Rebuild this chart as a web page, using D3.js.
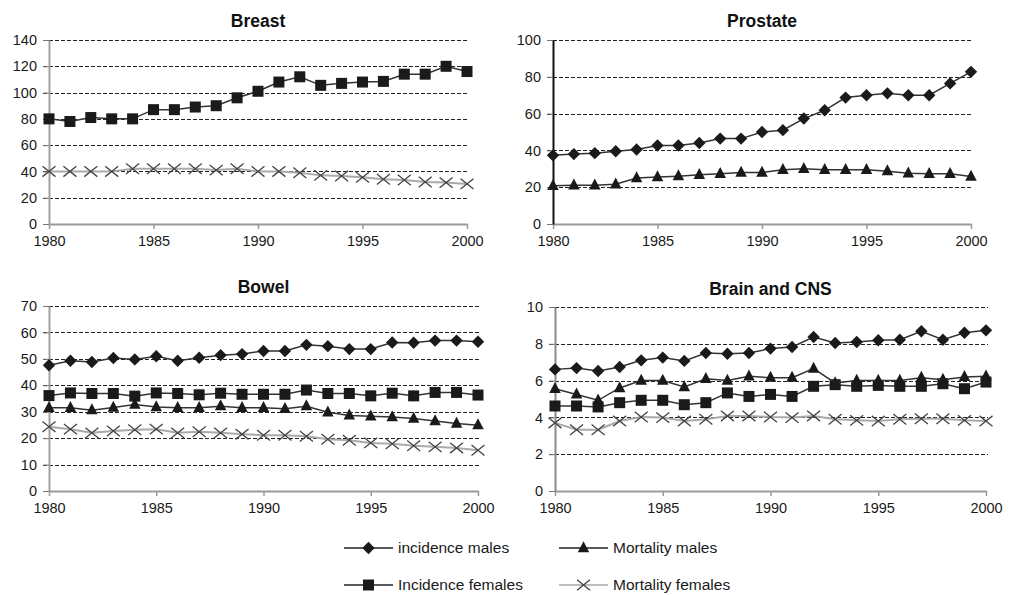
<!DOCTYPE html>
<html>
<head>
<meta charset="utf-8">
<script src="https://cdn.jsdelivr.net/npm/d3@7"></script>
<style>
  html, body { margin: 0; padding: 0; background: #fff; }
  svg { display: block; font-family: "Liberation Sans", Arial, sans-serif; }
</style>
</head>
<body>
<svg id="chart" width="1011" height="595"></svg>
<script>
// Years shared by every panel
const years = d3.range(1980, 2001);
const xTickYears = [1980, 1985, 1990, 1995, 2000];

// Breast (per 100,000)
const breastIncFemales = [80, 78, 81, 80, 80, 87, 87, 89, 90, 96, 101, 108, 112, 105.5, 107, 108, 108.5, 114, 114, 120, 116];
const breastMortFemales = [40, 40, 40, 40, 42, 42, 42, 42, 41, 42, 40, 40, 39, 37, 36.5, 35.5, 34, 33.5, 32, 31.5, 30.5];

// Prostate
const prostateIncMales = [37.3, 38, 38.5, 39.5, 40.5, 42.7, 42.7, 44, 46.4, 46.4, 50, 51, 57.3, 61.8, 68.7, 70, 71, 70, 70, 76.4, 82.7];
const prostateMortMales = [20.8, 21, 21, 21.6, 25, 25.5, 26, 26.7, 27.3, 28, 28, 29.5, 30, 29.5, 29.5, 29.5, 28.7, 27.6, 27.3, 27.3, 25.8];

// Bowel
const bowelIncMales = [47.6, 49.3, 48.8, 50.3, 49.8, 51, 49.3, 50.4, 51.4, 51.8, 53, 53, 55.3, 54.8, 53.7, 53.7, 56.2, 56.1, 56.9, 56.9, 56.5];
const bowelIncFemales = [36.1, 37.1, 36.9, 36.9, 35.9, 37.1, 36.9, 36.4, 37, 36.6, 36.6, 36.6, 38.2, 36.9, 36.9, 36, 37, 36, 37.3, 37.3, 36.3];
const bowelMortMales = [31.5, 31.5, 30.6, 31.6, 32.7, 31.8, 31.5, 31.5, 32.1, 31.5, 31.5, 31.1, 32.1, 29.8, 28.6, 28.3, 28, 27.4, 26.5, 25.5, 24.9];
const bowelMortFemales = [24.3, 23.4, 22, 22.7, 23.2, 23.4, 22, 22.4, 22, 21.5, 21.1, 21.1, 20.7, 19.6, 19.2, 18.2, 17.9, 17.1, 16.7, 16.3, 15.4];

// Brain and CNS
const brainIncMales = [6.61, 6.68, 6.52, 6.74, 7.1, 7.25, 7.07, 7.5, 7.46, 7.5, 7.74, 7.83, 8.37, 8.04, 8.1, 8.19, 8.22, 8.68, 8.22, 8.6, 8.73];
const brainMortMales = [5.56, 5.25, 4.93, 5.6, 6.0, 6.0, 5.65, 6.1, 6.0, 6.23, 6.16, 6.16, 6.65, 5.87, 6.0, 6.0, 6.0, 6.16, 6.05, 6.2, 6.23];
const brainIncFemales = [4.62, 4.62, 4.57, 4.8, 4.93, 4.93, 4.69, 4.8, 5.33, 5.14, 5.25, 5.14, 5.69, 5.78, 5.69, 5.74, 5.69, 5.69, 5.83, 5.56, 5.92];
const brainMortFemales = [3.7, 3.33, 3.33, 3.8, 4.02, 3.99, 3.8, 3.9, 4.08, 4.08, 4.02, 3.99, 4.08, 3.9, 3.84, 3.8, 3.9, 3.93, 3.93, 3.84, 3.8];

// Legend entries
const seriesNames = ["incidence males", "Mortality males", "Incidence females", "Mortality females"];

// Series appearance by kind
const styles = {
  incM: { line: "#333", marker: "diamond" },
  mortM: { line: "#333", marker: "triangle" },
  incF: { line: "#333", marker: "square" },
  mortF: { line: "#aaa", marker: "x" }
};

const panels = [
  { title: "Breast", yMax: 140, step: 20, x0: 49, x1: 467, yTop: 40, yBot: 224, titleY: 27, axisColor: "#a0a0a0",
    series: [["incF", breastIncFemales], ["mortF", breastMortFemales]] },
  { title: "Prostate", yMax: 100, step: 20, x0: 553, x1: 971, yTop: 40, yBot: 224, titleY: 27, axisColor: "#111",
    series: [["incM", prostateIncMales], ["mortM", prostateMortMales]] },
  { title: "Bowel", yMax: 70, step: 10, x0: 49, x1: 478, yTop: 306, yBot: 491, titleY: 293, axisColor: "#a0a0a0",
    series: [["incM", bowelIncMales], ["incF", bowelIncFemales], ["mortM", bowelMortMales], ["mortF", bowelMortFemales]] },
  { title: "Brain and CNS", yMax: 10, step: 2, x0: 555, x1: 986, yTop: 307, yBot: 491, titleY: 295, axisColor: "#8a8a8a",
    series: [["mortF", brainMortFemales], ["incF", brainIncFemales], ["mortM", brainMortMales], ["incM", brainIncMales]] }
];

const svg = d3.select("#chart");

function drawMarker(g, kind, cx, cy) {
  const m = styles[kind].marker;
  if (m === "diamond") {
    const r = 6.2;
    g.append("path").attr("d", `M${cx},${cy - r}L${cx + r},${cy}L${cx},${cy + r}L${cx - r},${cy}Z`).attr("fill", "#1a1a1a");
  } else if (m === "square") {
    const s = 11;
    g.append("rect").attr("x", cx - s / 2).attr("y", cy - s / 2).attr("width", s).attr("height", s).attr("fill", "#1a1a1a");
  } else if (m === "triangle") {
    const w = 11.5, h = 11;
    g.append("path").attr("d", `M${cx},${cy - h * 0.62}L${cx + w / 2},${cy + h * 0.38}L${cx - w / 2},${cy + h * 0.38}Z`).attr("fill", "#1a1a1a");
  } else {
    const r = 6.5;
    g.append("path").attr("d", `M${cx - r},${cy - r * 0.8}L${cx + r},${cy + r * 0.8}M${cx - r},${cy + r * 0.8}L${cx + r},${cy - r * 0.8}`)
      .attr("stroke", "#444").attr("stroke-width", 1.3).attr("fill", "none");
  }
}

panels.forEach(p => {
  const g = svg.append("g");
  const x = d3.scaleLinear().domain([1980, 2000]).range([p.x0, p.x1]);
  const y = d3.scaleLinear().domain([0, p.yMax]).range([p.yBot, p.yTop]);
  const yTicks = d3.range(0, p.yMax + p.step / 2, p.step);

  // dashed gridlines
  g.selectAll(".grid").data(yTicks.filter(v => v > 0)).join("line")
    .attr("x1", p.x0 - 6).attr("x2", p.x1 + 2)
    .attr("y1", d => Math.round(y(d)) + 0.5).attr("y2", d => Math.round(y(d)) + 0.5)
    .attr("stroke", "#222").attr("stroke-width", 1).attr("stroke-dasharray", "4,2");

  // x axis
  const xAxis = g.append("g").attr("transform", `translate(0,${p.yBot})`)
    .call(d3.axisBottom(x).tickValues(xTickYears).tickFormat(d3.format("d")).tickSize(5).tickSizeOuter(0));
  xAxis.select(".domain").attr("stroke", "#9a9a9a").attr("stroke-width", 2);
  xAxis.selectAll(".tick line").attr("stroke", "#9a9a9a").attr("stroke-width", 1.5);
  xAxis.selectAll(".tick text").attr("font-size", 14.5).attr("fill", "#1a1a1a").attr("dy", "0.95em")
    .attr("font-family", "Liberation Sans, Arial, sans-serif");

  // y axis
  const yAxis = g.append("g").attr("transform", `translate(${p.x0},0)`)
    .call(d3.axisLeft(y).tickValues(yTicks).tickFormat(d3.format("d")).tickSize(6).tickSizeOuter(0));
  yAxis.select(".domain").attr("stroke", p.axisColor).attr("stroke-width", 2);
  yAxis.selectAll(".tick line").attr("stroke", "#777").attr("stroke-width", 1);
  yAxis.selectAll(".tick text").attr("font-size", 14.5).attr("fill", "#1a1a1a").attr("x", -12)
    .attr("font-family", "Liberation Sans, Arial, sans-serif");

  // title
  g.append("text").attr("x", (p.x0 + p.x1) / 2).attr("y", p.titleY)
    .attr("text-anchor", "middle").attr("font-weight", "bold").attr("font-size", 17.5).attr("fill", "#111")
    .text(p.title);

  const line = d3.line().x((d, i) => x(years[i])).y(d => y(d));

  p.series.forEach(([kind, vals]) => {
    g.append("path").datum(vals).attr("d", line)
      .attr("fill", "none").attr("stroke", styles[kind].line).attr("stroke-width", kind === "mortF" ? 2 : 1.5);
    const mg = g.append("g");
    vals.forEach((v, i) => drawMarker(mg, kind, x(years[i]), y(v)));
  });
});

// legend
const legendKinds = ["incM", "mortM", "incF", "mortF"];
const legendPos = [
  { lx: 344, y: 548 }, { lx: 559, y: 548 },
  { lx: 344, y: 585 }, { lx: 559, y: 585 }
];
const lg = svg.append("g");
legendKinds.forEach((k, i) => {
  const pos = legendPos[i];
  lg.append("line").attr("x1", pos.lx).attr("x2", pos.lx + 49).attr("y1", pos.y).attr("y2", pos.y)
    .attr("stroke", k === "mortF" ? "#a8a8a8" : "#222").attr("stroke-width", 1.5);
  drawMarker(lg, k, pos.lx + 24.5, pos.y);
  lg.append("text").attr("x", pos.lx + 54).attr("y", pos.y).attr("dy", "0.35em")
    .attr("font-size", 15.5).attr("fill", "#1a1a1a").text(seriesNames[i]);
});
</script>
</body>
</html>
